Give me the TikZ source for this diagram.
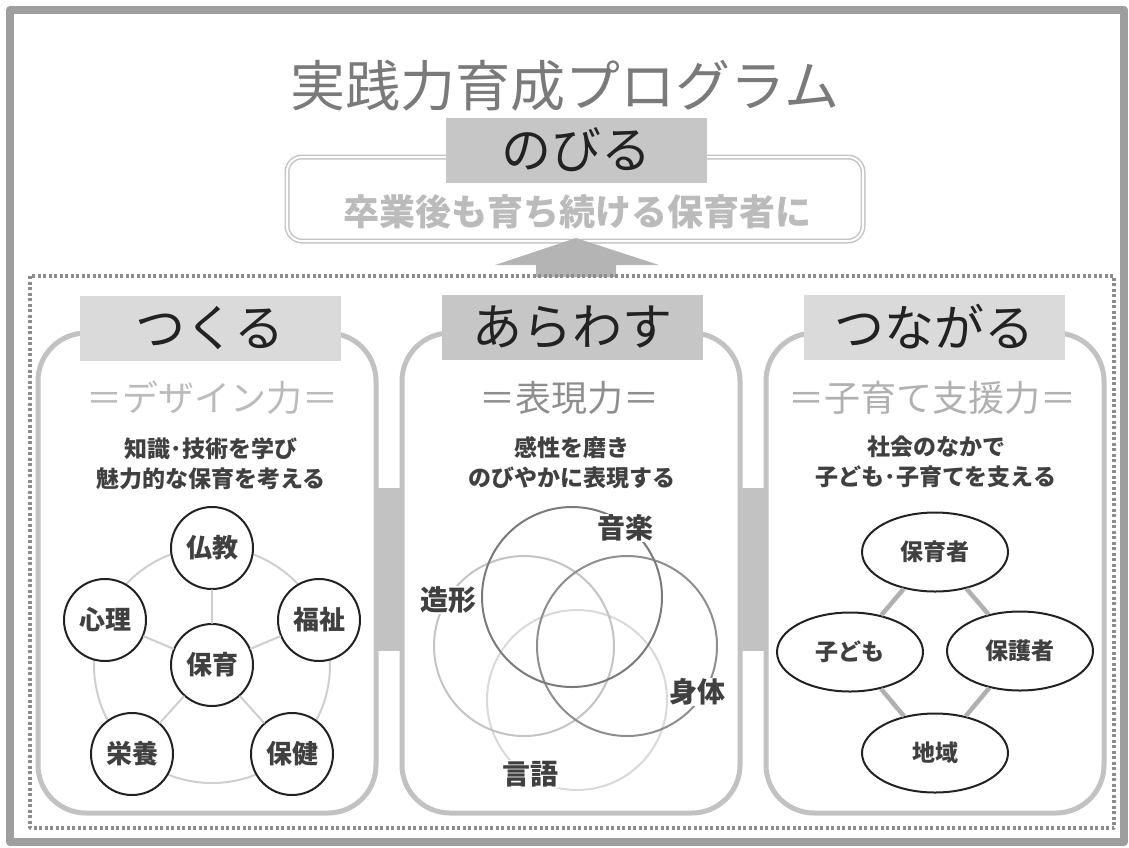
\documentclass[tikz,border=0pt]{standalone}
\usepackage{fontspec}
\setmainfont{Noto Sans CJK JP}
\usetikzlibrary{shapes.geometric}
\definecolor{framec}{HTML}{9E9E9E}
\definecolor{dotc}{HTML}{8C8C8C}
\definecolor{titlec}{HTML}{7A7A7A}
\definecolor{ink}{HTML}{222222}
\definecolor{txtc}{HTML}{404040}
\definecolor{boxmid}{HTML}{C6C6C6}
\definecolor{boxlight}{HTML}{DADADA}
\definecolor{subc}{HTML}{BBBBBB}
\definecolor{linec}{HTML}{C4C4C4}
\definecolor{panelc}{HTML}{C2C2C2}
\definecolor{arrowc}{HTML}{B4B4B4}
\definecolor{spokec}{HTML}{CFCFCF}
\definecolor{linkc}{HTML}{B0B0B0}
\begin{document}
\begin{tikzpicture}[x=1pt, y=-1pt, line join=round, line cap=round,
    panel/.style={draw=panelc, line width=5pt, rounded corners=48pt},
    headbox/.style={fill=#1, minimum width=261pt, minimum height=65pt, inner sep=0pt, text=ink, font=\fontsize{50}{50}\selectfont},
    power/.style={text=#1, font=\fontsize{36}{36}\selectfont},
    desc/.style={align=center, text=txtc, font=\bfseries\fontsize{23}{30}\selectfont},
    subj/.style={circle, draw=ink, line width=2pt, fill=white, minimum size=82pt, inner sep=0pt, text=txtc, font=\bfseries\fontsize{26}{26}\selectfont},
    spoke/.style={draw=spokec, line width=2pt},
    venn/.style={draw=#1, line width=2pt},
    vlabel/.style={fill=white, inner sep=1pt, text=txtc, font=\bfseries\fontsize{28}{28}\selectfont},
    actor/.style={ellipse, draw=ink, line width=2pt, fill=white, minimum width=146pt, minimum height=79pt, inner sep=0pt, text=txtc, font=\bfseries\fontsize{23}{23}\selectfont},
    link/.style={draw=linkc, line width=4.5pt, line cap=butt}]
    \useasboundingbox (0,0) rectangle (1129,847);
    \fill[white] (0,0) rectangle (1129,847);
    \draw[framec, line width=8pt] (10,10) rectangle (1124,842);
    % top
    \node[text=titlec, font=\fontsize{55}{55}\selectfont] (title) at (565,86) {実践力育成プログラム};
    \draw[linec, line width=1.5pt, double=white, double distance=2pt, rounded corners=15pt] (287,157) rectangle (863,241);
    \node[headbox=boxmid] (nobiru) at (576,150) {のびる};
    \node[text=subc, font=\bfseries\fontsize{36}{36}\selectfont] (goal) at (577,212) {卒業後も育ち続ける保育者に};
    \fill[arrowc] (576,238) -- (659,265) -- (616,265) -- (616,277) -- (536,277) -- (536,265) -- (495,265) -- cycle;
    \draw[dotc, line width=3.5pt, dash pattern=on 3pt off 2.5pt, line cap=butt] (30,276) rectangle (1114,828);
    % bars between panels
    \fill[panelc] (374,488) rectangle (404,651);
    \fill[panelc] (738,488) rectangle (768,651);
    % panels
    \draw[panel] (38,333) rectangle (376,813);
    \draw[panel] (402,333) rectangle (740,813);
    \draw[panel] (766,333) rectangle (1104,813);
    \node[headbox=boxlight] (tsukuru) at (210,328) {つくる};
    \node[headbox=boxmid] (arawasu) at (572,327) {あらわす};
    \node[headbox=boxlight] (tsunagaru) at (934,327) {つながる};
    \node[power=subc] (design) at (212,398) {＝デザイン力＝};
    \node[power=titlec!85] (hyogen) at (569,398) {＝表現力＝};
    \node[power=linkc] (kosodate) at (932,398) {＝子育て支援力＝};
    \node[desc] (d1) at (211,464) {知識･技術を学び\\魅力的な保育を考える};
    \node[desc] (d2) at (572,463) {感性を磨き\\のびやかに表現する};
    \node[desc] (d3) at (936,462) {社会のなかで\\子ども･子育てを支える};
    % left: subjects
    \draw[spoke] (212,665) circle[radius=118pt];
    \node[subj] (hoiku) at (212,665) {保育};
    \node[subj] (bukkyo) at (212,548) {仏教};
    \node[subj] (shinri) at (105,620) {心理};
    \node[subj] (fukushi) at (319,620) {福祉};
    \node[subj] (eiyo) at (132,754) {栄養};
    \node[subj] (hoken) at (292,754) {保健};
    \draw[spoke] (hoiku) -- (bukkyo);
    \draw[spoke] (hoiku) -- (shinri);
    \draw[spoke] (hoiku) -- (fukushi);
    \draw[spoke] (hoiku) -- (eiyo);
    \draw[spoke] (hoiku) -- (hoken);
    % middle: venn
    \draw[venn=spokec!80] (577,700) circle[radius=90pt];
    \draw[venn=linec] (524,646) circle[radius=90pt];
    \draw[venn=titlec!85] (627,646) circle[radius=90pt];
    \draw[venn=titlec] (572,597) circle[radius=90pt];
    \node[vlabel] (ongaku) at (625,528) {音楽};
    \node[vlabel] (zokei) at (448,600) {造形};
    \node[vlabel] (shintai) at (697,692) {身体};
    \node[vlabel] (gengo) at (530,774) {言語};
    % right: actors
    \node[actor] (hoikusha) at (935,552) {保育者};
    \node[actor] (kodomo) at (850,652) {子ども};
    \node[actor] (hogosha) at (1020,651) {保護者};
    \node[actor] (chiiki) at (935,753) {地域};
    \draw[link] (hoikusha) -- (kodomo);
    \draw[link] (hoikusha) -- (hogosha);
    \draw[link] (kodomo) -- (chiiki);
    \draw[link] (hogosha) -- (chiiki);
\end{tikzpicture}
\end{document}
